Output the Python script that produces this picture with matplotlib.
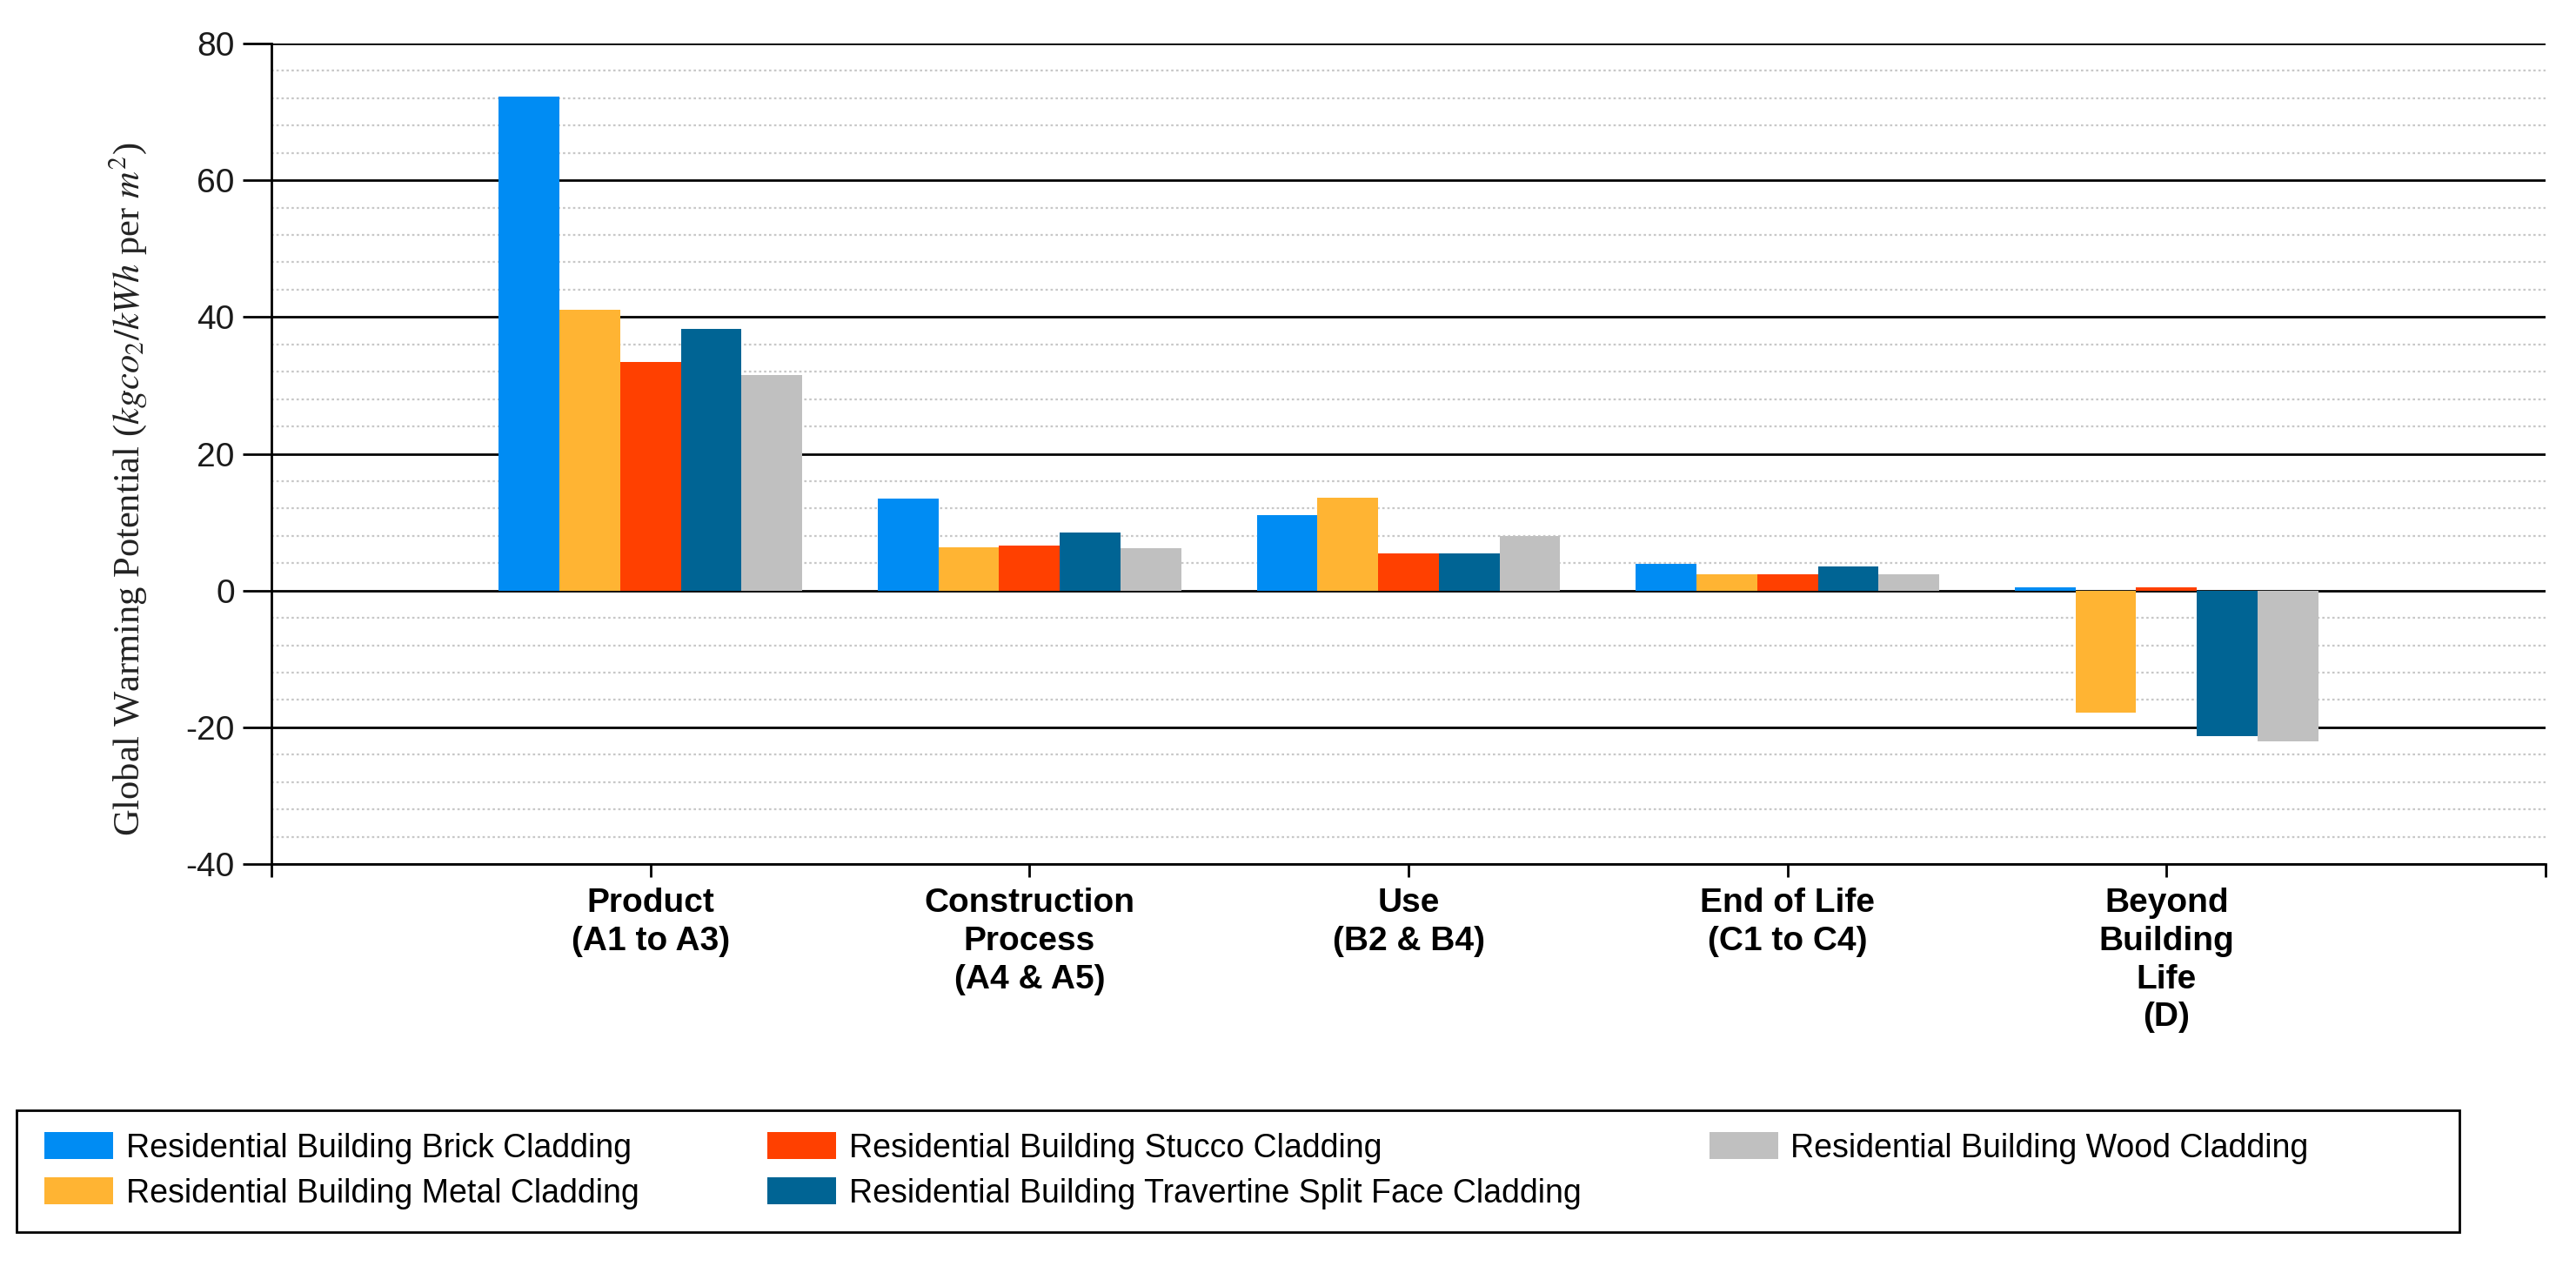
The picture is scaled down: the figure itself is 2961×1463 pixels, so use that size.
import matplotlib
matplotlib.use("Agg")
import matplotlib.pyplot as plt
from matplotlib.ticker import MultipleLocator, FixedLocator
from matplotlib.patches import Rectangle
import numpy as np

# ---- data ----
categories = ["Product\n(A1 to A3)", "Construction\nProcess\n(A4 & A5)",
              "Use\n(B2 & B4)", "End of Life\n(C1 to C4)",
              "Beyond\nBuilding\nLife\n(D)"]
series_names = ["Residential Building Brick Cladding",
                "Residential Building Metal Cladding",
                "Residential Building Stucco Cladding",
                "Residential Building Travertine Split Face Cladding",
                "Residential Building Wood Cladding"]
brick = [72.2, 13.4, 11.0, 3.85, 0.5]
metal = [41.0, 6.3, 13.6, 2.4, -17.9]
stucco = [33.4, 6.6, 5.4, 2.4, 0.5]
travertine = [38.3, 8.5, 5.4, 3.5, -21.3]
wood = [31.5, 6.2, 8.0, 2.4, -22.0]
y_ticks = [-40, -20, 0, 20, 40, 60, 80]

colors = ["#008CF3", "#FFB433", "#FF4000", "#006494", "#C0C0C0"]
series = [brick, metal, stucco, travertine, wood]

plt.rcParams['mathtext.fontset'] = 'stix'
plt.rcParams['axes.unicode_minus'] = False

W, H, DPI = 2961, 1463, 200
fig = plt.figure(figsize=(W / DPI, H / DPI), dpi=DPI)

left, right = 312 / W, 2926 / W
top, bottom = 1 - 50 / H, 1 - 993 / H
ax = fig.add_axes([left, bottom, right - left, top - bottom])

x = np.arange(1, len(categories) + 1)
bw = 0.16
for i, (vals, c, name) in enumerate(zip(series, colors, series_names)):
    ax.bar(x + (i - 2) * bw, vals, width=bw, color=c, linewidth=0, label=name, zorder=3)

ax.set_xlim(0, len(categories) + 1)
ax.set_ylim(-40, 80)
ax.set_axisbelow(True)

ax.yaxis.set_major_locator(FixedLocator(y_ticks))
ax.yaxis.set_minor_locator(MultipleLocator(4))
ax.grid(which='major', axis='y', color='black', linewidth=1.0, zorder=1)
ax.grid(which='minor', axis='y', color='#c8c8c8', linewidth=0.8,
        linestyle=(0, (1.2, 1.4)), zorder=0)
ax.tick_params(axis='y', which='major', length=12, width=1.0, pad=3.2,
               labelsize=14, labelcolor='#1a1a1a')
ax.tick_params(axis='y', which='minor', length=0)
for lab in ax.get_yticklabels():
    lab.set_fontfamily('Liberation Sans')

xt = np.arange(0, len(categories) + 2)
ax.set_xticks(xt)
ax.set_xticklabels([""] + categories + [""], fontsize=14, fontweight='bold',
                   fontfamily='Liberation Sans', linespacing=1.27)
ax.tick_params(axis='x', length=5.4, width=1.0, pad=4.5)

for s in ['top', 'right']:
    ax.spines[s].set_visible(False)
ax.spines['left'].set_linewidth(1.0)
ax.spines['bottom'].set_linewidth(1.0)

fig.text(147 / W, 1 - 562 / H,
         "Global Warming Potential ($kgco_2/kWh$ per $m^2$)",
         rotation=90, ha='center', va='center', fontsize=15.3,
         fontfamily='Liberation Serif', color='#222222')

# legend box
fig.patches.append(Rectangle((19 / W, 1 - 1416 / H), (2827 - 19) / W, (1416 - 1276) / H,
                             transform=fig.transFigure, fill=False,
                             edgecolor='black', linewidth=1.0))
handles, labels = ax.get_legend_handles_labels()
leg = fig.legend(handles, labels, loc='upper left',
                 bbox_to_anchor=(51 / W, 1 - 1301 / H),
                 bbox_transform=fig.transFigure, ncol=3, frameon=False,
                 borderpad=0, borderaxespad=0, handlelength=2.1,
                 handleheight=0.9, handletextpad=0.4, labelspacing=0.42,
                 columnspacing=3.93,
                 prop={'family': 'Liberation Sans', 'size': 13.5})

fig.savefig("out.png", dpi=DPI)
